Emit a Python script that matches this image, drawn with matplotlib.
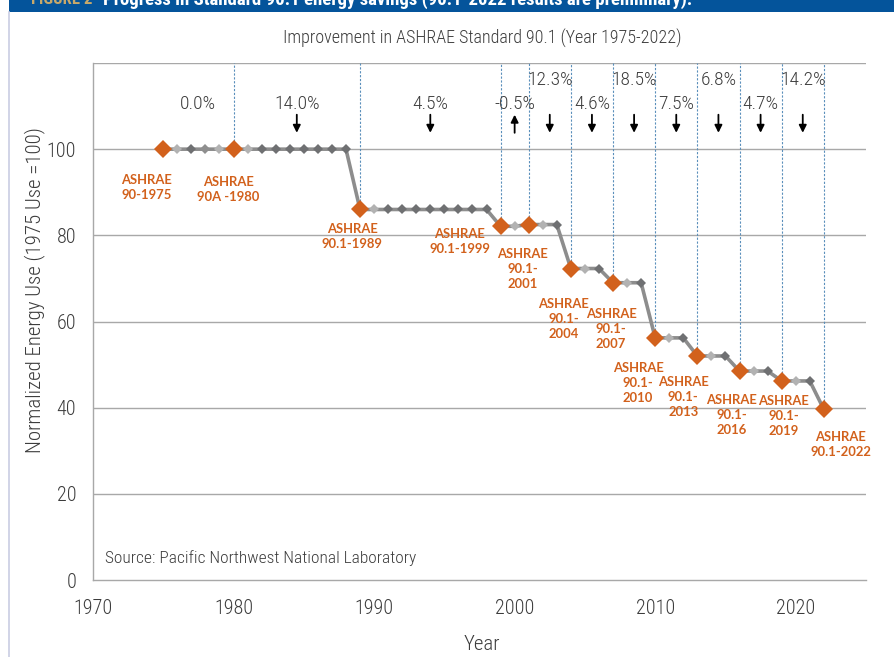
import matplotlib
matplotlib.use("Agg")
import matplotlib.pyplot as plt
from matplotlib import font_manager
import matplotlib.patches as mpatches

# ---------------- data ----------------
years = list(range(1975, 2023))
energy_use = [100.0, 100.0, 100.0, 100.0, 100.0, 100.0, 100.0, 100.0, 100.0, 100.0,
              100.0, 100.0, 100.0, 100.0,
              86.0, 86.0, 86.0, 86.0, 86.0, 86.0, 86.0, 86.0, 86.0, 86.0,
              82.1, 82.1,
              82.5, 82.5, 82.5,
              72.3, 72.3, 72.3,
              69.0, 69.0, 69.0,
              56.2, 56.2, 56.2,
              52.0, 52.0, 52.0,
              48.5, 48.5, 48.5,
              46.2, 46.2, 46.2,
              39.6]
standard_years = [1975, 1980, 1989, 1999, 2001, 2004, 2007, 2010, 2013, 2016, 2019, 2022]
standard_names = ["ASHRAE\n90-1975", "ASHRAE\n90A -1980", "ASHRAE\n90.1-1989",
                  "ASHRAE\n90.1-1999", "ASHRAE\n90.1-\n2001", "ASHRAE\n90.1-\n2004",
                  "ASHRAE\n90.1-\n2007", "ASHRAE\n90.1-\n2010", "ASHRAE\n90.1-\n2013",
                  "ASHRAE\n90.1-\n2016", "ASHRAE\n90.1-\n2019", "ASHRAE\n90.1-2022"]
savings_labels = ["0.0%", "14.0%", "4.5%", "-0.5%", "12.3%", "4.6%", "18.5%",
                  "7.5%", "6.8%", "4.7%", "14.2%"]
y_ticks = [0, 20, 40, 60, 80, 100]
x_ticks = [1970, 1980, 1990, 2000, 2010, 2020]

# ---------------- layout (not data) ----------------
label_offsets_px = [(-17, -38), (-5, -40), (-8, -27), (-41, -15), (-6, -44), (-7, -50),
                    (-2, -46), (-17, -45), (-14, -41), (-8, -44), (2, -35), (17, -35)]
savings_row = [0, 0, 0, 0, 1, 0, 1, 0, 1, 0, 1]  # 1 = upper row

# ---------------- fonts ----------------
names = {f.name for f in font_manager.fontManager.ttflist}
COND = next((n for n in ["Roboto Condensed", "Liberation Sans Narrow", "Open Sans Condensed"]
             if n in names), "DejaVu Sans")
BOLDF = "Lato" if "Lato" in names else "DejaVu Sans"
LW_ = "light"

TXT = "#3c3c3c"
ORANGE = "#d2611c"
GRID = "#a8a8a8"

fig = plt.figure(figsize=(8.95, 6.57), dpi=100)
W, H = 895, 657

# banner and frame
fig.patches.append(mpatches.Rectangle((9 / W, 1 - 12 / H), 1, 12 / H, transform=fig.transFigure,
                                      facecolor="#04549b", edgecolor="none", zorder=0))
fig.lines.append(plt.Line2D([9.5 / W, 9.5 / W], [0, 1 - 12 / H], transform=fig.transFigure,
                            color="#c9cde3", lw=1.2))
fig.text(31 / W, 1 - 4.5 / H, "FIGURE 2", family=COND, weight="bold", fontsize=12,
         color="#c8a96a", va="baseline", ha="left")
fig.text(103 / W, 1 - 4.5 / H,
         "Progress in Standard 90.1 energy savings (90.1-2022 results are preliminary).",
         family=COND, weight="bold", fontsize=13.5, color="white", va="baseline", ha="left")

ax = fig.add_axes([93 / W, 1 - 580 / H, (866 - 93) / W, (580 - 63) / H])
ax.set_xlim(1970, 2025)
ax.set_ylim(0, 120)

for yv in [20, 40, 60, 80, 100, 120]:
    ax.axhline(yv, color=GRID, lw=1.0, zorder=0)
for s in ["right", "top"]:
    ax.spines[s].set_visible(False)
for s in ["left", "bottom"]:
    ax.spines[s].set_color(GRID)
    ax.spines[s].set_linewidth(1.0)

ax.set_xticks(x_ticks)
ax.set_yticks(y_ticks)
ax.tick_params(length=0)
ax.tick_params(axis="x", pad=14)
ax.tick_params(axis="y", pad=12)
for lab in ax.get_xticklabels() + ax.get_yticklabels():
    lab.set_family(COND)
    lab.set_weight(LW_)
    lab.set_fontsize(14.5)
    lab.set_color(TXT)

# dashed guide lines from the standard markers to the top
val_of = dict(zip(years, energy_use))
std_vals = [val_of[y] for y in standard_years]
ax.vlines(standard_years[1:], std_vals[1:], 120, colors="#5a8fbb", lw=0.8,
          linestyles=(0, (2.0, 1.5)), zorder=1)

# main line
ax.plot(years, energy_use, color="#8d8d8d", lw=2.6, zorder=2, solid_joinstyle="miter")

# small gray diamonds
for i, (yr, v) in enumerate(zip(years, energy_use)):
    if yr in standard_years:
        continue
    prev_is_std = (yr - 1) in standard_years
    col = "#b2b2b2" if prev_is_std else "#6f7072"
    if yr in (1978,):
        col = "#8f8f8f"
    if yr in (1979,):
        col = "#b2b2b2"
    ax.plot([yr], [v], marker="D", markersize=5.6, color=col, markeredgewidth=0, zorder=3)

# orange standard markers
ax.plot(standard_years, std_vals, linestyle="none", marker="D", markersize=9.4,
        color=ORANGE, markeredgewidth=0, zorder=4)

# standard labels
for yr, v, name, (dx, dy) in zip(standard_years, std_vals, standard_names, label_offsets_px):
    ax.annotate(name, xy=(yr, v), xytext=(dx * 0.72, dy * 0.72), textcoords="offset points",
                ha="center", va="center", family=BOLDF, weight="bold", fontsize=9.4,
                color=ORANGE, linespacing=1.3, zorder=5)

# savings labels and arrows between consecutive standards
for k, lab in enumerate(savings_labels):
    mid = (standard_years[k] + standard_years[k + 1]) / 2
    ylab = 116.1 if savings_row[k] else 110.5
    ax.text(mid, ylab, lab, ha="center", va="center", family=COND, weight=LW_,
            fontsize=14, color=TXT, zorder=5)
    change = std_vals[k + 1] - std_vals[k]
    if change < 0:
        ax.annotate("", xy=(mid, 103.8), xytext=(mid, 108.0),
                    arrowprops=dict(arrowstyle="-|>", color="black", lw=1.3,
                                    mutation_scale=11, shrinkA=0, shrinkB=0))
    elif change > 0:
        ax.annotate("", xy=(mid, 108.0), xytext=(mid, 103.8),
                    arrowprops=dict(arrowstyle="-|>", color="black", lw=1.3,
                                    mutation_scale=11, shrinkA=0, shrinkB=0))

ax.text((105 - 93) / 773, (580 - 558) / 517, "Source: Pacific Northwest National Laboratory",
        transform=ax.transAxes, ha="left", va="center", family=COND, weight=LW_,
        fontsize=12.5, color=TXT)

fig.text(482 / W, 1 - 38 / H, "Improvement in ASHRAE Standard 90.1 (Year 1975-2022)",
         ha="center", va="center", family=COND, weight=LW_, fontsize=13, color=TXT)
fig.text(35 / W, 1 - 290 / H, "Normalized Energy Use (1975 Use =100)", rotation=90,
         ha="center", va="center", family=COND, weight=LW_, fontsize=15, color=TXT)
fig.text(482 / W, 1 - 645 / H, "Year", ha="center", va="center", family=COND, weight=LW_,
         fontsize=15, color=TXT)

fig.savefig("out.png", dpi=100)
